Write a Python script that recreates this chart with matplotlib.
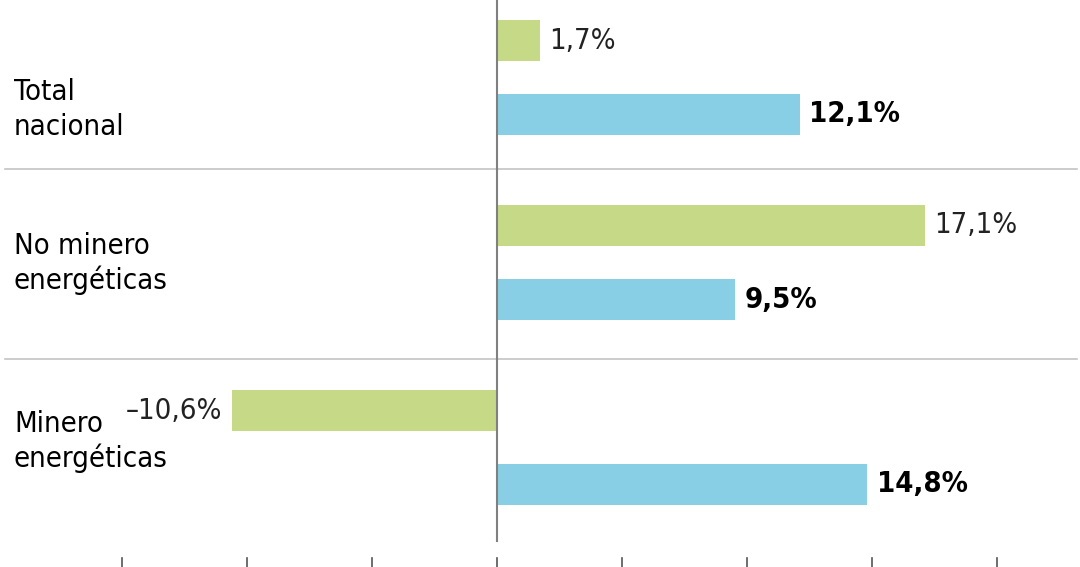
import matplotlib
matplotlib.use("Agg")
import matplotlib.pyplot as plt

categorias = ["Total\nnacional", "No minero\nenergéticas", "Minero\nenergéticas"]
serie_verde = [1.7, 17.1, -10.6]
serie_azul = [12.1, 9.5, 14.8]
ticks = [-15, -10, -5, 0, 5, 10, 15, 20]

verde = "#c6d986"
azul = "#88cfe6"
fam = ["Liberation Sans Narrow", "DejaVu Sans"]
txt = dict(family=fam, stretch="condensed", fontsize=21)

def fmt(v):
    return f"{v:.1f}%".replace(".", ",").replace("-", "\u2013")

fig = plt.figure(figsize=(10.8, 5.67), dpi=100)
ax = fig.add_axes([0, 0, 1, 1])
px = 25.0  # pixels per percent
ax.set_xlim(-497 / px, 583 / px)
ax.set_ylim(567, 0)
ax.axis("off")

paso, centro0, sep, alto = 185, 77.5, 37, 41
base_off = [22.5, -8.5, -15.5]   # baseline of first label line vs group center
interlinea = 35
for i, cat in enumerate(categorias):
    c = centro0 + i * paso
    ax.barh(c - sep, serie_verde[i], height=alto, color=verde, zorder=2)
    ax.barh(c + sep, serie_azul[i], height=alto, color=azul, zorder=2)
    v = serie_verde[i]
    if v >= 0:
        ax.text(v + 10 / px, c - sep, fmt(v), ha="left", va="center",
                color="#222222", fontweight="light", **txt)
    else:
        ax.text(v - 10 / px, c - sep, fmt(v), ha="right", va="center",
                color="#222222", fontweight="light", **txt)
    b = serie_azul[i]
    ax.text(b + 10 / px, c + sep, fmt(b), ha="left", va="center",
            fontweight="bold", color="black", **txt)
    for j, linea in enumerate(cat.split("\n")):
        ax.text(-483 / px, c + base_off[i] + j * interlinea, linea,
                ha="left", va="baseline", color="black", **txt)

# separadores
for i in range(1, len(categorias)):
    y = centro0 + (i - 0.5) * paso + (0 if i == 1 else 5) - 1
    ax.plot([-492 / px, 580 / px], [y, y], color="#c4c4c4", lw=1.2, zorder=1)

ax.plot([0, 0], [0, 541], color="#808080", lw=1.5, zorder=3)
for t in ticks:
    ax.plot([t, t], [558, 567], color="#555555", lw=1.2)

fig.savefig("out.png", dpi=100)
